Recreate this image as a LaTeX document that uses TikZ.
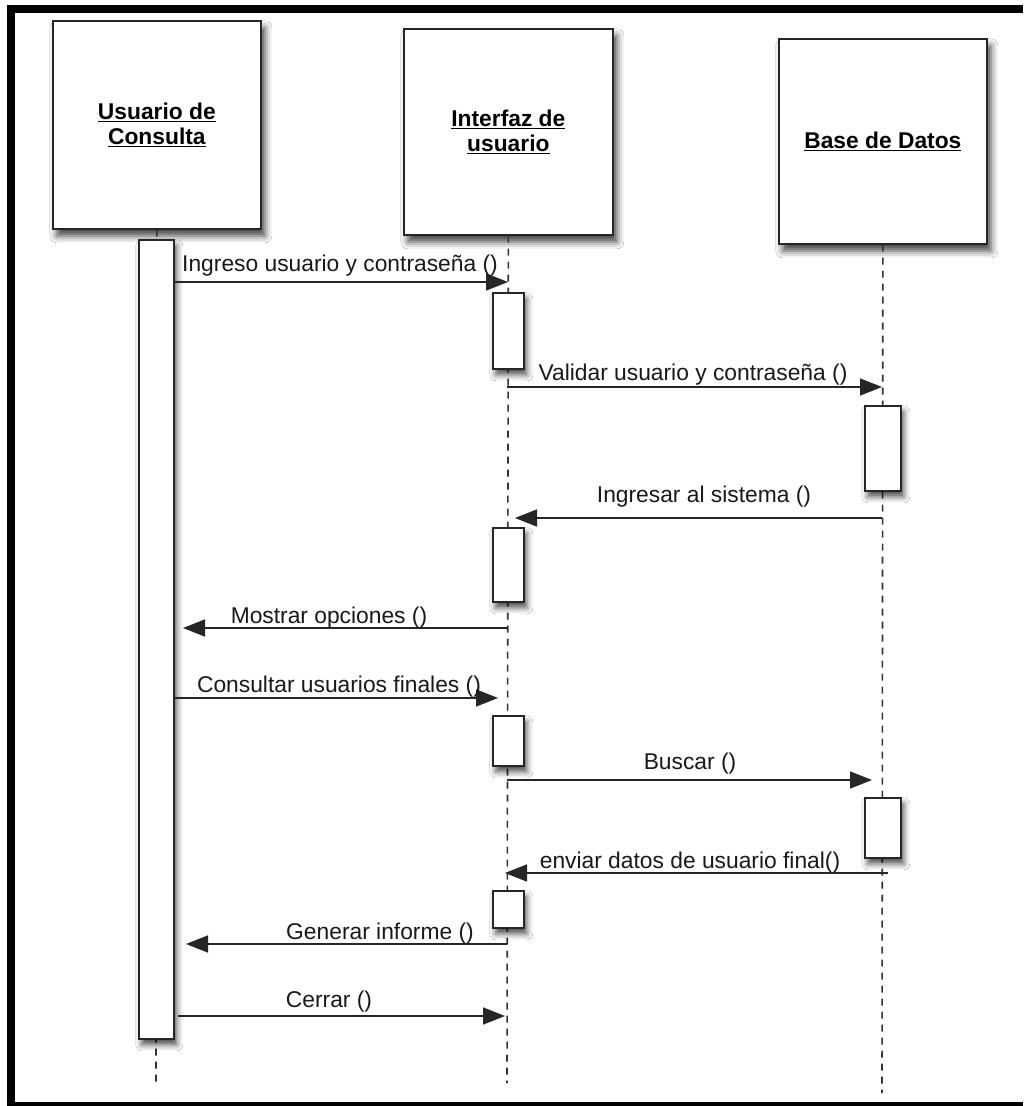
\documentclass[tikz,border=0pt]{standalone}
\usepackage{fontspec}
\setmainfont{Liberation Sans}
\usetikzlibrary{arrows.meta,shadows.blur}

\begin{document}
\begin{tikzpicture}[x=1pt,y=-1pt,
  frame/.style={fill=black,draw=none},
  head/.style={draw=black!85,line width=1.7pt,fill=white,
    blur shadow={shadow xshift=4pt,shadow yshift=-7pt,shadow blur radius=7pt,shadow opacity=75},
    minimum width=208pt,minimum height=208pt,inner sep=0pt,anchor=north west,
    font=\fontsize{22.8}{25}\selectfont\bfseries,align=center,text=black},
  act/.style={draw=black!85,line width=1.6pt,fill=white,
    blur shadow={shadow xshift=3pt,shadow yshift=-6pt,shadow blur radius=6pt,shadow opacity=70},
    inner sep=0pt,anchor=north west},
  life/.style={draw=black!80,line width=1.6pt,dash pattern=on 7pt off 6pt},
  msg/.style={draw=black!85,line width=1.6pt,-{Triangle[length=22pt,width=17pt]}},
  lbl/.style={font=\fontsize{22.8}{25}\selectfont,text=black!90,anchor=base,inner sep=0pt}]

% page and frame
\fill[white] (0,0) rectangle (1023,1106);
\useasboundingbox (0,0) rectangle (1023,1106);
\fill[frame] (7,5) rectangle (1023,13);
\fill[frame] (7,5) rectangle (15,1106);
\fill[frame] (7,1102) rectangle (1023,1106);

% lifeline heads
\node[head] (hu) at (52,20) {\underline{Usuario de}\\\underline{Consulta}};
\node[head,minimum height=206pt,minimum width=209pt] (hi) at (403,28) {\underline{Interfaz de}\\\underline{usuario}};
\node[head,minimum height=205pt] (hb) at (778,38) {\underline{Base de Datos}};

% lifeline ends
\coordinate (eu) at (156,1083);
\coordinate (ei) at (507,1083);
\coordinate (eb) at (882,1093);

% lifelines
\draw[life] (hu.south) -- (eu);
\draw[life] (hi.south) -- (ei);
\draw[life] (hb.south) -- (eb);

% activation bars
\node[act,minimum width=35pt,minimum height=799pt] (au) at (138,239) {};
\node[act,minimum width=31pt,minimum height=76pt] (ai1) at (492,292) {};
\node[act,minimum width=36pt,minimum height=85pt] (ab1) at (864,405) {};
\node[act,minimum width=31pt,minimum height=74pt] (ai2) at (492,527) {};
\node[act,minimum width=31pt,minimum height=50pt] (ai3) at (492,715) {};
\node[act,minimum width=36pt,minimum height=60pt] (ab2) at (864,797) {};
\node[act,minimum width=31pt,minimum height=37pt] (ai4) at (492,890) {};

% message end points
\coordinate (m1a) at (173,282);  \coordinate (m1b) at (508,282);
\coordinate (m2a) at (507,387);  \coordinate (m2b) at (882,387);
\coordinate (m3a) at (882,518);  \coordinate (m3b) at (515,518);
\coordinate (m4a) at (507,628);  \coordinate (m4b) at (183,628);
\coordinate (m5a) at (173,698);  \coordinate (m5b) at (498,698);
\coordinate (m6a) at (507,780);  \coordinate (m6b) at (872,780);
\coordinate (m7a) at (888,873);  \coordinate (m7b) at (505,873);
\coordinate (m8a) at (507,944);  \coordinate (m8b) at (186,944);
\coordinate (m9a) at (178,1016); \coordinate (m9b) at (505,1016);

% messages
\draw[msg] (m1a) -- (m1b);
\draw[msg] (m2a) -- (m2b);
\draw[msg] (m3a) -- (m3b);
\draw[msg] (m4a) -- (m4b);
\draw[msg] (m5a) -- (m5b);
\draw[msg] (m6a) -- (m6b);
\draw[msg] (m7a) -- (m7b);
\draw[msg] (m8a) -- (m8b);
\draw[msg] (m9a) -- (m9b);

% message labels
\node[lbl] (t1) at (340,271) {Ingreso usuario y contraseña ()};
\node[lbl] (t2) at (693,380) {Validar usuario y contraseña ()};
\node[lbl] (t3) at (704,502) {Ingresar al sistema ()};
\node[lbl] (t4) at (329,623) {Mostrar opciones ()};
\node[lbl] (t5) at (339,692) {Consultar usuarios finales ()};
\node[lbl] (t6) at (690,769) {Buscar ()};
\node[lbl] (t7) at (690,868) {enviar datos de usuario final()};
\node[lbl] (t8) at (380,939) {Generar informe ()};
\node[lbl] (t9) at (329,1007) {Cerrar ()};
\end{tikzpicture}
\end{document}
